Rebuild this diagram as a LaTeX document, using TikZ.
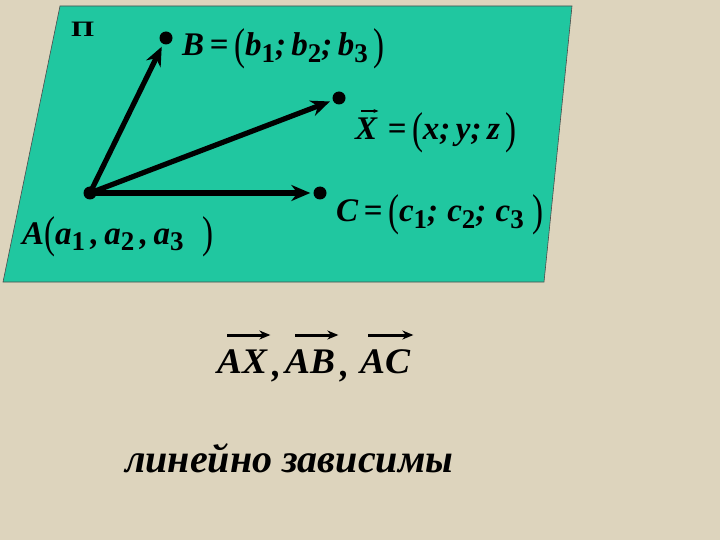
\documentclass[tikz,border=0pt]{standalone}
\usepackage{fontspec}
\usepackage{graphicx}
\setmainfont{Liberation Serif}
\usetikzlibrary{arrows.meta}
\definecolor{bgbeige}{RGB}{221,212,189}
\definecolor{plane}{RGB}{32,199,160}
\newcommand\sbs[1]{\raisebox{-0.4ex}{\upshape\fontsize{27}{27}\selectfont #1}}
\newcommand\bpar[1]{{\fontseries{m}\upshape\raisebox{-0.12em}{\scalebox{1}[1.35]{#1}}}}
\newcommand\wide[1]{\scalebox{1.04}[1]{#1}}
\tikzset{
  fml/.style={inner sep=0pt, font=\fontsize{33}{35}\selectfont\bfseries\itshape},
  big/.style={inner sep=0pt, font=\fontsize{36}{38}\selectfont\bfseries\itshape},
  pt/.style={circle, fill=black, inner sep=0pt, minimum size=13pt},
  vec/.style={line width=5.2pt, -{Stealth[length=19pt,width=16pt]}, shorten >=3pt},
  ovarrow/.style={line width=3pt, -{Stealth[length=11pt,width=9pt]}},
  smallarrow/.style={line width=1.2pt, -{Stealth[length=5pt,width=4pt]}}
}
\begin{document}
\begin{tikzpicture}[x=1pt,y=-1pt]
\useasboundingbox (0,0) rectangle (720,540);
\fill[bgbeige] (0,0) rectangle (720,540);
\fill[plane, draw=black!70, line width=0.6pt] (60,6) -- (572,6) -- (544,282) -- (3,282) -- cycle;
\node[inner sep=0pt, anchor=base west, font=\fontsize{22}{22}\selectfont\bfseries] (pi) at (71,37) {\scalebox{1.35}[1]{П}};
\node[pt] (A) at (90,193) {};
\node[pt] (B) at (166,38) {};
\node[pt] (X) at (339,98) {};
\node[pt] (C) at (320,193) {};
\draw[vec] (A.center) -- (B);
\draw[vec] (A.center) -- (X);
\draw[vec] (A.center) -- (C);
\node[fml, anchor=base west] (Blab) at (182,56) {B\,=\,\bpar{(}b\sbs{1};\,b\sbs{2};\,b\sbs{3}\,\bpar{)}};
\node[fml, anchor=base west] (Xl) at (355,140) {X};
\node[fml, anchor=base west] (Xlab) at (382,140) {\,=\,\bpar{(}x;\,y;\,z\,\bpar{)}};
\draw[smallarrow] ([xshift=6pt,yshift=29pt]Xl.base west) -- ([xshift=1pt,yshift=29pt]Xl.base east);
\node[fml, anchor=base west] (Clab) at (336,222) {C\,=\,\bpar{(}c\sbs{1};\;c\sbs{2};\;c\sbs{3}\;\bpar{)}};
\node[fml, anchor=base west] (Alab) at (22,244) {A\bpar{(}a\sbs{1}\,,\,a\sbs{2}\,,\,a\sbs{3}\;\;\bpar{)}};
\node[big, anchor=base west] (ax) at (217,373) {\wide{AX}};
\node[big, anchor=base west] (c1) at (272,376) {,};
\node[big, anchor=base west] (ab) at (285,373) {\wide{AB}};
\node[big, anchor=base west] (c2) at (340,376) {,};
\node[big, anchor=base west] (ac) at (360,373) {\wide{AC}};
\draw[ovarrow] ([xshift=10pt,yshift=38pt]ax.base west) -- ([xshift=3pt,yshift=38pt]ax.base east);
\draw[ovarrow] ([xshift=10pt,yshift=38pt]ab.base west) -- ([xshift=3pt,yshift=38pt]ab.base east);
\draw[ovarrow] ([xshift=8pt,yshift=38pt]ac.base west) -- ([xshift=3pt,yshift=38pt]ac.base east);
\node[inner sep=0pt, anchor=base west, font=\fontsize{40}{42}\selectfont\bfseries\itshape] (lz) at (125,472) {линейно зависимы};
\end{tikzpicture}
\end{document}
